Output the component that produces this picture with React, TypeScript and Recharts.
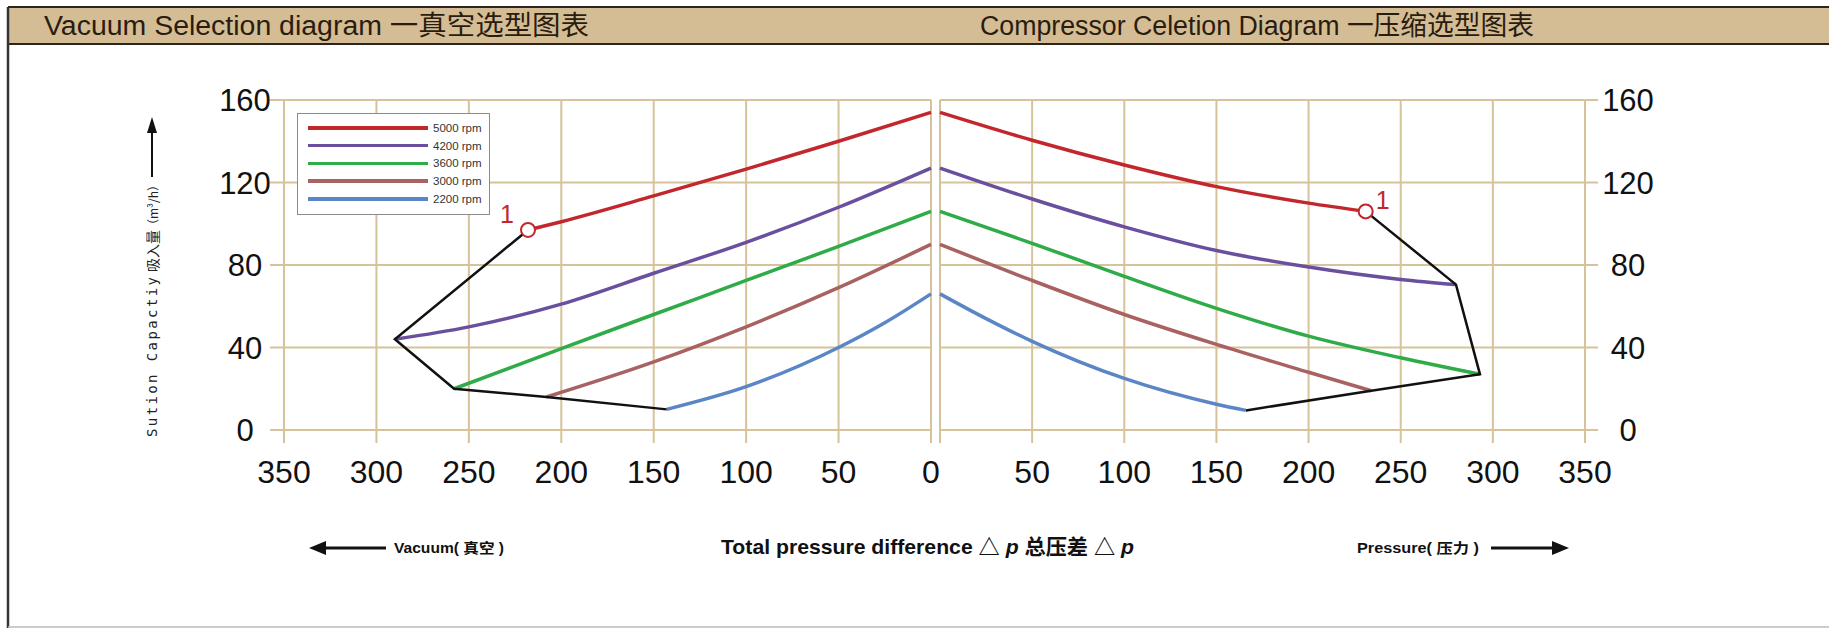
import React from 'react';
import { ComposedChart, Line, XAxis, YAxis, CartesianGrid, ReferenceDot, Legend } from 'recharts';

// ---------- data ----------
const rpmNames = ['5000 rpm', '4200 rpm', '3600 rpm', '3000 rpm', '2200 rpm'];
const rpmColors = ['#c1272d', '#6a4f9f', '#2fab48', '#a86262', '#5b86c6'];
const xTicks = [0, 50, 100, 150, 200, 250, 300, 350];
const yTicks = [0, 40, 80, 120, 160];

// Vacuum side: [pressure difference, suction capacity]
const vac5000: [number, number][] = [[218, 97], [200, 101], [150, 113.5], [100, 126.5], [50, 140], [0, 154]];
const vac4200: [number, number][] = [[290, 44], [250, 50], [200, 61], [150, 76], [100, 91], [50, 108], [0, 127]];
const vac3600: [number, number][] = [[258, 20], [200, 39.5], [150, 56], [100, 72.5], [50, 89], [0, 106]];
const vac3000: [number, number][] = [[208, 16], [150, 33], [100, 50], [50, 69], [0, 90]];
const vac2200: [number, number][] = [[143, 10], [100, 21], [50, 40], [25, 52], [0, 66]];
const vacLimit: [number, number][] = [[218, 97], [290, 44], [258, 20], [208, 16], [143, 10]];
const vacPoint1: [number, number] = [218, 97];

// Compressor side
const cmp5000: [number, number][] = [[0, 154], [50, 140.5], [100, 128.5], [150, 118], [200, 110], [231, 106]];
const cmp4200: [number, number][] = [[0, 127], [50, 112], [100, 98.5], [150, 87], [200, 79], [250, 73], [280, 70.5]];
const cmp3600: [number, number][] = [[0, 106], [50, 90.5], [100, 74.5], [150, 59], [200, 45.5], [250, 35], [293, 27]];
const cmp3000: [number, number][] = [[0, 90], [50, 72.5], [100, 56], [150, 41.5], [200, 28], [234, 19]];
const cmp2200: [number, number][] = [[0, 66], [25, 54], [50, 43], [100, 25], [150, 12.5], [166, 9.5]];
const cmpLimit: [number, number][] = [[231, 106], [280, 70.5], [293, 27], [234, 19], [166, 9.5]];
const cmpPoint1: [number, number] = [231, 106];

const vacSeries = [vac5000, vac4200, vac3600, vac3000, vac2200];
const cmpSeries = [cmp5000, cmp4200, cmp3600, cmp3000, cmp2200];

const toPts = (a: [number, number][]) => a.map(([x, y]) => ({ x, y }));

// ---------- styles ----------
const GRID = '#d6c39b';
const FONT = "'Liberation Sans', Arial, 'Noto Sans CJK SC', sans-serif";
const RED = '#c1272d';

const XTick = (props: any) => {
  const { x, y, payload, hideZero } = props;
  if (hideZero && payload.value === 0) return null;
  return (
    <text x={x} y={y} dy={38} textAnchor="middle" fontSize={32} fontFamily={FONT} fill="#111">
      {payload.value}
    </text>
  );
};

const YTickLeft = (props: any) => {
  const { x, y, payload } = props;
  return (
    <text x={x - 23} y={y} dy={11} textAnchor="middle" fontSize={31} fontFamily={FONT} fill="#111">
      {payload.value}
    </text>
  );
};

const YTickRight = (props: any) => {
  const { x, y, payload } = props;
  return (
    <text x={x + 28} y={y} dy={11} textAnchor="middle" fontSize={31} fontFamily={FONT} fill="#111">
      {payload.value}
    </text>
  );
};

const LegendBox = (props: any) => {
  const items = (props.payload || [])
    .filter((p: any) => p.type !== 'none' && rpmNames.indexOf(p.value) >= 0)
    .sort((a: any, b: any) => rpmNames.indexOf(a.value) - rpmNames.indexOf(b.value));
  return (
    <div style={{ width: 193, height: 102, border: '1.5px solid #8c8c8c', background: '#fff', boxSizing: 'border-box', position: 'relative' }}>
      {items.map((it: any, i: number) => (
        <div key={i} style={{ position: 'absolute', left: 10, top: 7 + i * 17.7, height: 14, display: 'flex', alignItems: 'center' }}>
          <div style={{ width: 120, height: 3.5, background: it.color }} />
          <span style={{ marginLeft: 5, fontSize: 11.5, fontFamily: FONT, color: '#333', whiteSpace: 'nowrap' }}>{it.value}</span>
        </div>
      ))}
    </div>
  );
};

const Point1 = (dx: number, dy: number) => (p: any) => (
  <g>
    <circle cx={p.cx} cy={p.cy} r={7} fill="#fff" stroke={RED} strokeWidth={2} />
    <text x={p.cx + dx} y={p.cy + dy} textAnchor="middle" fontSize={25} fontFamily={FONT} fill={RED}>1</text>
  </g>
);

export default function App() {
  return (
    <div style={{ position: 'absolute', left: 0, top: 0, width: 1829, height: 628, background: '#fff', overflow: 'hidden' }}>
      <svg width={1829} height={628} style={{ position: 'absolute', left: 0, top: 0 }}>
        {/* header band */}
        <rect x={8} y={7} width={1821} height={37} fill="#d4bd95" />
        <line x1={8} y1={7} x2={1829} y2={7} stroke="#2a2520" strokeWidth={2} />
        <line x1={8} y1={44} x2={1829} y2={44} stroke="#2a2520" strokeWidth={2} />
        <line x1={8} y1={7} x2={8} y2={628} stroke="#333" strokeWidth={2.5} />
        <line x1={8} y1={627} x2={1829} y2={627} stroke="#bbb" strokeWidth={1.5} />
        <text x={44} y={35} fontSize={27} fontFamily={FONT} fill="#2a1c0e" textLength={545} lengthAdjust="spacingAndGlyphs">Vacuum Selection diagram 一真空选型图表</text>
        <text x={980} y={35} fontSize={27} fontFamily={FONT} fill="#2a1c0e" textLength={554} lengthAdjust="spacingAndGlyphs">Compressor Celetion Diagram 一压缩选型图表</text>

        {/* y axis title */}
        <text x={152} y={357} transform="rotate(-90 152 357)" textAnchor="middle" dominantBaseline="central" fontSize={14} fontFamily="'DejaVu Sans Mono', monospace" fill="#222" textLength={160} lengthAdjust="spacing">Sution Capactiy</text>
        <text x={152} y={251} transform="rotate(-90 152 251)" textAnchor="middle" dominantBaseline="central" fontSize={14} fontFamily="'Noto Sans CJK SC', sans-serif" fill="#222">吸入量</text>
        <text x={152} y={205} transform="rotate(-90 152 205)" textAnchor="middle" dominantBaseline="central" fontSize={12} fontFamily="'Noto Sans CJK SC', sans-serif" fill="#222">（m³/h）</text>
        <line x1={152} y1={177} x2={152} y2={128} stroke="#111" strokeWidth={2} />
        <polygon points="152,117 147,133 157,133" fill="#111" />

        {/* bottom labels */}
        <line x1={322} y1={548} x2={386} y2={548} stroke="#111" strokeWidth={3} />
        <polygon points="309,548 326,541 326,555" fill="#111" />
        <text x={394} y={553} fontSize={14} fontWeight="bold" fontFamily={FONT} fill="#111" textLength={110} lengthAdjust="spacingAndGlyphs">Vacuum( 真空 )</text>
        <text x={721} y={554} fontSize={21} fontWeight="bold" fontFamily={FONT} fill="#111" textLength={413} lengthAdjust="spacingAndGlyphs">
          Total pressure difference △ <tspan fontStyle="italic">p</tspan> 总压差 △ <tspan fontStyle="italic">p</tspan>
        </text>
        <text x={1357} y={553} fontSize={14} fontWeight="bold" fontFamily={FONT} fill="#111" textLength={122} lengthAdjust="spacingAndGlyphs">Pressure( 压力 )</text>
        <line x1={1491} y1={548} x2={1556} y2={548} stroke="#111" strokeWidth={3} />
        <polygon points="1569,548 1552,541 1552,555" fill="#111" />
      </svg>

      {/* Vacuum chart */}
      <div style={{ position: 'absolute', left: 200, top: 80 }}>
        <ComposedChart width={760} height={420} margin={{ top: 20, right: 29, left: 0, bottom: 0 }}>
          <CartesianGrid stroke={GRID} strokeWidth={2} />
          <XAxis type="number" dataKey="x" domain={[0, 350]} ticks={xTicks} reversed height={70}
            axisLine={false} tickSize={13} tickLine={{ stroke: GRID, strokeWidth: 2 }} tick={<XTick />} interval={0} />
          <YAxis type="number" domain={[0, 160]} ticks={yTicks} width={84}
            axisLine={false} tickSize={14} tickLine={{ stroke: GRID, strokeWidth: 2 }} tick={<YTickLeft />} interval={0} />
          <Legend layout="vertical" align="center" verticalAlign="middle" content={<LegendBox />}
            wrapperStyle={{ position: 'absolute', left: 97, top: 33, width: 193, height: 102 }} />
          {vacSeries.map((s, i) => (
            <Line key={i} data={toPts(s)} dataKey="y" name={rpmNames[i]} type="monotone" stroke={rpmColors[i]}
              strokeWidth={3.5} dot={false} activeDot={false} isAnimationActive={false} />
          ))}
          <Line data={toPts(vacLimit)} dataKey="y" name="limit" type="linear" stroke="#111" strokeWidth={2.5}
            dot={false} activeDot={false} legendType="none" isAnimationActive={false} />
          <ReferenceDot x={vacPoint1[0]} y={vacPoint1[1]} r={7} shape={Point1(-21, -7)} />
        </ComposedChart>
      </div>

      {/* Compressor chart */}
      <div style={{ position: 'absolute', left: 900, top: 80 }}>
        <ComposedChart width={780} height={420} margin={{ top: 20, right: 0, left: 40, bottom: 0 }}>
          <CartesianGrid stroke={GRID} strokeWidth={2} />
          <XAxis type="number" dataKey="x" domain={[0, 350]} ticks={xTicks} height={70}
            axisLine={false} tickSize={13} tickLine={{ stroke: GRID, strokeWidth: 2 }} tick={<XTick hideZero />} interval={0} />
          <YAxis type="number" orientation="right" domain={[0, 160]} ticks={yTicks} width={95}
            axisLine={false} tickSize={13} tickLine={{ stroke: GRID, strokeWidth: 2 }} tick={<YTickRight />} interval={0} />
          {cmpSeries.map((s, i) => (
            <Line key={i} data={toPts(s)} dataKey="y" name={rpmNames[i]} type="monotone" stroke={rpmColors[i]}
              strokeWidth={3.5} dot={false} activeDot={false} isAnimationActive={false} />
          ))}
          <Line data={toPts(cmpLimit)} dataKey="y" name="limit" type="linear" stroke="#111" strokeWidth={2.5}
            dot={false} activeDot={false} legendType="none" isAnimationActive={false} />
          <ReferenceDot x={cmpPoint1[0]} y={cmpPoint1[1]} r={7} shape={Point1(17, -2)} />
        </ComposedChart>
      </div>
    </div>
  );
}
